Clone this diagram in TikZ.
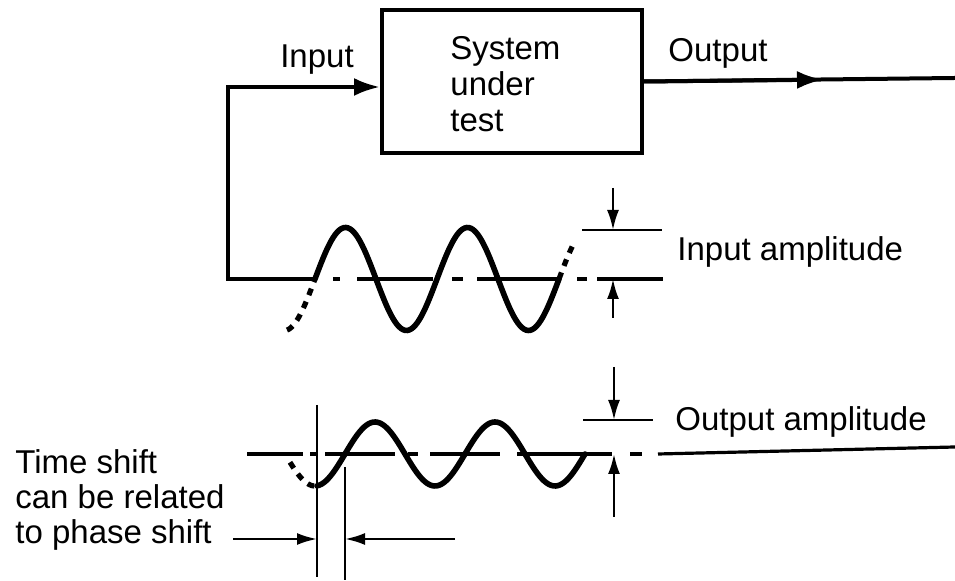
\documentclass[tikz,border=0pt]{standalone}
\usepackage{fontspec}
\setmainfont{Liberation Sans}
\usetikzlibrary{arrows.meta}
\begin{document}
\begin{tikzpicture}[x=0.5pt,y=-0.5pt,
  every node/.style={font=\fontsize{16.5}{18}\selectfont, inner sep=0pt},
  conn/.style={line width=2pt},
  wave/.style={line width=2.8pt, line cap=round},
  wavedot/.style={line width=2.6pt, dash pattern=on 3.5pt off 3.5pt},
  base/.style={line width=1.6pt},
  thinline/.style={line width=1.2pt},
  bigtip/.style={-{Latex[length=13pt,width=9pt]}},
  smalltip/.style={-{Latex[length=10pt,width=6pt]}},
  sysbox/.style={draw, line width=2pt, minimum width=130pt, minimum height=71.5pt}
]
\useasboundingbox (0,0) rectangle (955,581);

% system block
\node[sysbox] (sut) at (512,81.5) {};
\node[anchor=west, align=left] (sutlabel) at (450,84) {System\\under\\test};

% labels
\node (inlabel) at (317,60) {Input};
\node (outlabel) at (718,53) {Output};
\node[anchor=west] (inamp) at (677,252) {Input amplitude};
\node[anchor=west] (outamp) at (675,422) {Output amplitude};
\node[anchor=west, align=left, font=\fontsize{16.5}{17.5}\selectfont] (tslabel) at (15,500) {Time shift\\can be related\\to phase shift};

% input connector
\coordinate (w1s) at (315,279);
\coordinate (inlev) at (0,87);
\draw[conn, bigtip] (w1s) -- (228,279) -- (228,87) -- (sut.west |- inlev);

% output connector
\coordinate (outmid) at (823,79.7);
\coordinate (outend) at (955,78);
\draw[conn] (sut.east) -- (outend);
\draw[conn, bigtip] (sut.east) -- (outmid);

% input sine
\draw[wave] plot[domain=315:559, samples=120] (\x, {279-51.5*sin((\x-315)/122*360)});
\draw[wavedot] plot[domain=287:315, samples=20] (\x, {279-51.5*sin((\x-315)/122*360)});
\draw[wavedot] plot[domain=559:573, samples=12] (\x, {279-51.5*sin((\x-315)/122*360)});
\foreach \a/\b in {333/340,357/433,452/463,477/560,577/587,597/663}
  \draw[base] (\a,279) -- (\b,279);

% input amplitude marker
\coordinate (ia1) at (613,188);
\coordinate (ia2) at (613,230);
\coordinate (ia3) at (613,318);
\coordinate (ia4) at (613,279);
\draw[thinline, smalltip] (ia1) -- (ia2);
\draw[thinline] (582,230) -- (662,230);
\draw[thinline, smalltip] (ia3) -- (ia4);

% output sine
\draw[wave] plot[domain=317:585, samples=120] (\x, {454-32*sin((\x-345)/120*360)});
\draw[wavedot] plot[domain=290:317, samples=20] (\x, {454-32*sin((\x-345)/120*360)});
\foreach \a/\b in {247/303,310/317,325/395,408/418,430/500,517/612,630/642}
  \draw[base] (\a,454) -- (\b,454);
\coordinate (ol1) at (658,454);
\coordinate (ol2) at (955,447);
\draw[base] (ol1) -- (ol2);

% output amplitude marker
\coordinate (oa1) at (614,367);
\coordinate (oa2) at (614,420);
\coordinate (oa3) at (614,517);
\coordinate (oa4) at (614,454);
\draw[thinline, smalltip] (oa1) -- (oa2);
\draw[thinline] (583,420) -- (653,420);
\draw[thinline, smalltip] (oa3) -- (oa4);

% time shift
\coordinate (v1t) at (317,405);
\coordinate (v1b) at (317,577);
\coordinate (v2t) at (345,467);
\coordinate (v2b) at (345,580);
\draw[thinline] (v1t) -- (v1b);
\draw[thinline] (v2t) -- (v2b);
\coordinate (ta1) at (233,539);
\coordinate (ta2) at (455,539);
\draw[thinline, smalltip] (ta1) -- (v1t |- ta1);
\draw[thinline, smalltip] (ta2) -- (v2t |- ta2);
\end{tikzpicture}
\end{document}
